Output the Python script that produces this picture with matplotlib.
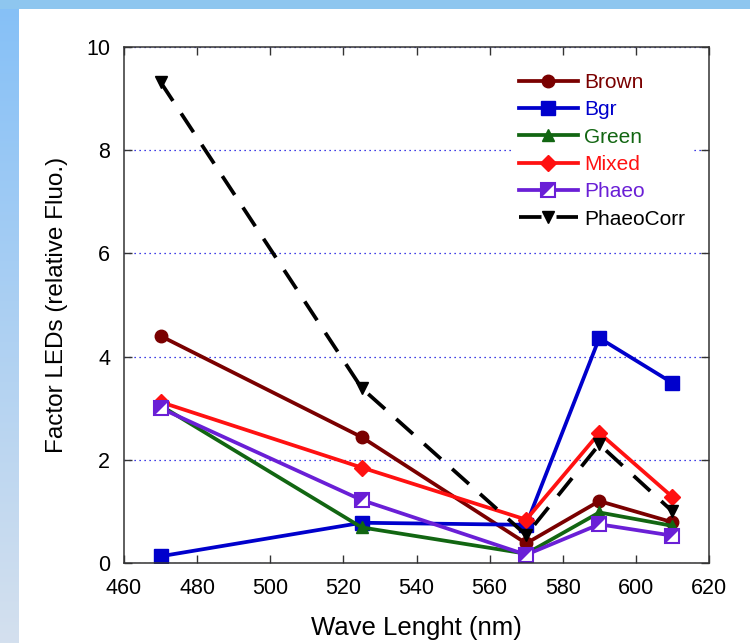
import numpy as np
import matplotlib
matplotlib.use("Agg")
import matplotlib.pyplot as plt
from matplotlib.path import Path
from matplotlib.legend_handler import HandlerTuple

plt.rcParams['font.family'] = ['Liberation Sans', 'DejaVu Sans']

# data
wave = [470, 525, 570, 590, 610]
brown = [4.40, 2.44, 0.38, 1.20, 0.79]
bgr = [0.13, 0.78, 0.74, 4.36, 3.49]
green = [3.05, 0.69, 0.18, 0.98, 0.72]
mixed = [3.12, 1.85, 0.84, 2.52, 1.28]
phaeo = [3.00, 1.22, 0.16, 0.75, 0.53]
phaeo_corr = [9.32, 3.39, 0.54, 2.30, 1.00]

x_ticks = [460, 480, 500, 520, 540, 560, 580, 600, 620]
y_ticks = [0, 2, 4, 6, 8, 10]

fig = plt.figure(figsize=(7.5, 6.43), dpi=100)
fig.patch.set_facecolor("white")

# slide background: blue strips on top and left
left_band = fig.add_axes([0, 0, 19 / 750, 1])
grad = np.linspace(0, 1, 256).reshape(-1, 1)
cmap = matplotlib.colors.LinearSegmentedColormap.from_list("band", ["#85c0f7", "#d4e0ee"])
left_band.imshow(grad, aspect="auto", cmap=cmap, extent=(0, 1, 0, 1), origin="upper")
left_band.set_axis_off()
top_band = fig.add_axes([0, 1 - 9 / 643, 1, 9 / 643])
top_band.set_facecolor("#8ec6ef")
top_band.set_xticks([])
top_band.set_yticks([])
for s in top_band.spines.values():
    s.set_visible(False)

ax = fig.add_axes([124 / 750, 80 / 643, 585 / 750, 516 / 643])

lw = 2.7
h_brown, = ax.plot(wave, brown, color="#7a0000", lw=lw, marker="o", ms=9)
h_bgr, = ax.plot(wave, bgr, color="#0000cc", lw=lw, marker="s", ms=9.5)
h_green, = ax.plot(wave, green, color="#126612", lw=lw, marker="^", ms=9)
h_mixed, = ax.plot(wave, mixed, color="#ff1111", lw=lw, marker="D", ms=8)

# half filled square for Phaeo (upper-left triangle filled)
tri = Path([(-1, 1), (1, 1), (-1, -1), (-1, 1)], [Path.MOVETO, Path.LINETO, Path.LINETO, Path.CLOSEPOLY])
h_phaeo1, = ax.plot(wave, phaeo, color="#6a1fd6", lw=lw, marker="s", ms=9.5,
                    mfc="white", mec="#6a1fd6", mew=1.5)
h_phaeo2, = ax.plot(wave, phaeo, ls="none", marker=tri, ms=9.5, mfc="#6a1fd6", mew=0)

h_corr, = ax.plot(wave, phaeo_corr, color="black", lw=lw, ls=(0, (6, 4)), marker="v", ms=9)

ax.set_xlim(460, 620)
ax.set_ylim(0, 10)
ax.set_xticks(x_ticks)
ax.set_yticks(y_ticks)
ax.yaxis.grid(True, color="#0000dd", linestyle=(0, (1, 3)), linewidth=0.9)
ax.set_axisbelow(True)
ax.tick_params(direction="in", top=True, right=True, length=6, width=1,
               labelsize=15.5, color="#333333")
ax.tick_params(axis="x", pad=11)
ax.tick_params(axis="y", pad=10)
for s in ax.spines.values():
    s.set_color("#333333")
    s.set_linewidth(1.1)

ax.set_xlabel("Wave Lenght (nm)", fontsize=18.5, labelpad=12)
ax.set_ylabel("Factor LEDs (relative Fluo.)", fontsize=17.5, labelpad=13)

leg = ax.legend([h_brown, h_bgr, h_green, h_mixed, (h_phaeo1, h_phaeo2), h_corr],
                ["Brown", "Bgr", "Green", "Mixed", "Phaeo", "PhaeoCorr"],
                handler_map={tuple: HandlerTuple(ndivide=1)},
                loc="upper left", bbox_to_anchor=(0.665, 0.962), fontsize=15,
                frameon=True, facecolor="white", edgecolor="none", framealpha=1,
                handlelength=2.8, handletextpad=0.3, labelspacing=0.4,
                borderpad=0.3, borderaxespad=0)
for text, line in zip(leg.get_texts(), ["#7a0000", "#0000cc", "#126612", "#ff1111", "#6a1fd6", "black"]):
    text.set_color(line)

fig.savefig("out.png", dpi=100)
